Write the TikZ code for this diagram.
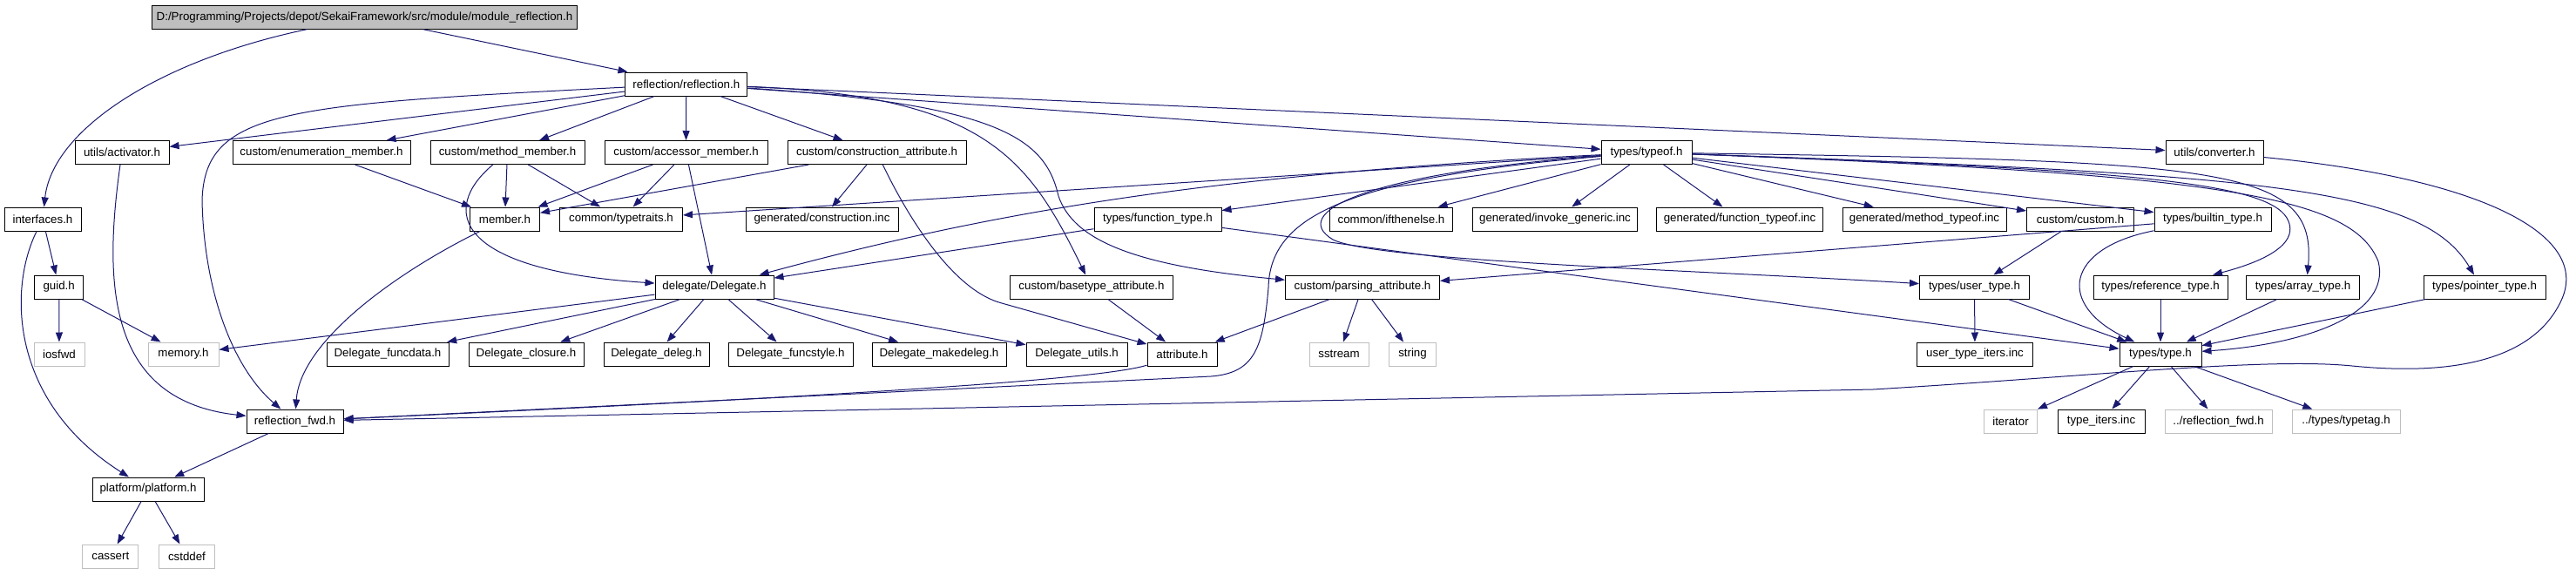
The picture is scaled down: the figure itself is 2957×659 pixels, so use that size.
\documentclass[tikz,border=0pt]{standalone}
\usepackage{fontspec}
\setmainfont{Liberation Sans}
\usepackage{xcolor}
\usepackage{tikz}
\usetikzlibrary{arrows.meta}
\definecolor{dxedge}{HTML}{191970}
\definecolor{dxgray}{HTML}{BFBFBF}

\begin{document}
\begin{tikzpicture}[x=1pt, y=-1pt,
  box/.style={draw=black, fill=white, line width=1pt, minimum height=27pt, inner sep=0pt, font=\fontsize{13.3}{16}\selectfont},
  sys/.style={box, draw=dxgray},
  main/.style={box, fill=dxgray},
  wd/.style={minimum width=#1pt},
  arr/.style={-{Triangle[length=11pt,width=8pt]}, dxedge, line width=1pt}
]
  \path[use as bounding box, fill=white] (0,0) rectangle (2957,659);

  \node[main, wd=488] (module) at (418.5,19.7) {D:/Programming/Projects/depot/SekaiFramework/src/module/module\_reflection.h};
  \node[box, wd=140] (refl) at (787.8,96.5) {reflection/reflection.h};

  \node[box, wd=108] (activator) at (140,175) {utils/activator.h};
  \node[box, wd=204] (enummember) at (369,175) {custom/enumeration\_member.h};
  \node[box, wd=177] (methodmember) at (582.5,175) {custom/method\_member.h};
  \node[box, wd=187] (accessormember) at (787.5,175) {custom/accessor\_member.h};
  \node[box, wd=205] (constrattr) at (1006.5,175) {custom/construction\_attribute.h};
  \node[box, wd=104] (typeof) at (1890,175) {types/typeof.h};
  \node[box, wd=112] (converter) at (2542,175) {utils/converter.h};

  \node[box, wd=88] (interfaces) at (49,251.5) {interfaces.h};
  \node[box, wd=80] (member) at (579.5,251.5) {member.h};
  \node[box, wd=141] (typetraits) at (713,251.5) {common/typetraits.h};
  \node[box, wd=175] (constrinc) at (943.5,251.5) {generated/construction.inc};
  \node[box, wd=146] (functype) at (1329,251.5) {types/function\_type.h};
  \node[box, wd=141] (ifthenelse) at (1597,251.5) {common/ifthenelse.h};
  \node[box, wd=189] (invokegen) at (1785,251.5) {generated/invoke\_generic.inc};
  \node[box, wd=191] (functypeof) at (1997,251.5) {generated/function\_typeof.inc};
  \node[box, wd=188] (methodtypeof) at (2209,251.5) {generated/method\_typeof.inc};
  \node[box, wd=123] (custom) at (2388,251.5) {custom/custom.h};
  \node[box, wd=134] (builtin) at (2540,251.5) {types/builtin\_type.h};

  \node[box, wd=56] (guid) at (67.7,329.5) {guid.h};
  \node[box, wd=136] (delegate) at (820,329.5) {delegate/Delegate.h};
  \node[box, wd=187] (basetype) at (1253,329.5) {custom/basetype\_attribute.h};
  \node[box, wd=177] (parsing) at (1564,329.5) {custom/parsing\_attribute.h};
  \node[box, wd=126] (usertype) at (2266.5,329.5) {types/user\_type.h};
  \node[box, wd=154] (reftype) at (2480,329.5) {types/reference\_type.h};
  \node[box, wd=130] (arraytype) at (2643.6,329.5) {types/array\_type.h};
  \node[box, wd=140] (pointertype) at (2852,329.5) {types/pointer\_type.h};

  \node[sys, wd=58] (iosfwd) at (68,406.5) {iosfwd};
  \node[sys, wd=81] (memory) at (210.5,406.5) {memory.h};
  \node[box, wd=140] (funcdata) at (445,406.5) {Delegate\_funcdata.h};
  \node[box, wd=132] (closure) at (604,406.5) {Delegate\_closure.h};
  \node[box, wd=121] (deleg) at (753.5,406.5) {Delegate\_deleg.h};
  \node[box, wd=143] (funcstyle) at (907.5,406.5) {Delegate\_funcstyle.h};
  \node[box, wd=154] (makedeleg) at (1078,406.5) {Delegate\_makedeleg.h};
  \node[box, wd=116] (dutils) at (1236,406.5) {Delegate\_utils.h};
  \node[box, wd=80] (attribute) at (1357,406.5) {attribute.h};
  \node[sys, wd=68] (sstream) at (1537,406.5) {sstream};
  \node[sys, wd=54] (string) at (1621.5,406.5) {string};
  \node[box, wd=133] (usertypeiters) at (2267,406.5) {user\_type\_iters.inc};
  \node[box, wd=94] (type) at (2480,406.5) {types/type.h};

  \node[box, wd=111] (rfwd) at (338.5,483.5) {reflection\_fwd.h};
  \node[sys, wd=61] (iterator) at (2308,483.5) {iterator};
  \node[box, wd=100] (typeiters) at (2412,483.5) {type\_iters.inc};
  \node[sys, wd=123] (rfwdrel) at (2546.5,483.5) {../reflection\_fwd.h};
  \node[sys, wd=124] (typetag) at (2693,483.5) {../types/typetag.h};

  \node[box, wd=128] (platform) at (170,561.5) {platform/platform.h};
  \node[sys, wd=64] (cassert) at (126.8,638.5) {cassert};
  \node[sys, wd=64] (cstddef) at (214.5,638.5) {cstddef};

  % module
  \draw[arr] (module) .. controls (180,70) and (60,150) .. (interfaces);
  \draw[arr] (module) -- (refl);

  % reflection.h
  \draw[arr] (refl) -- (activator);
  \draw[arr] (refl) -- (enummember);
  \draw[arr] (refl) -- (methodmember);
  \draw[arr] (refl) -- (accessormember);
  \draw[arr] (refl) -- (constrattr);
  \draw[arr] (refl) -- (typeof);
  \draw[arr] (refl) -- (converter);
  \draw[arr] (refl) .. controls (1130,110) and (1180,180) .. (basetype);
  \draw[arr] (refl) .. controls (1150,120) and (1200,160) .. (1215,225) .. controls (1232,275) and (1300,305) .. (parsing);
  \draw[arr] (refl) .. controls (330,120) and (235,125) .. (232,230) .. controls (234,330) and (265,420) .. (rfwd);

  % members
  \draw[arr] (enummember) -- (member);
  \draw[arr] (methodmember) -- (member);
  \draw[arr] (methodmember) -- (typetraits);
  \draw[arr] (methodmember) .. controls (505,240) and (520,310) .. (delegate);
  \draw[arr] (accessormember) -- (member);
  \draw[arr] (accessormember) -- (typetraits);
  \draw[arr] (accessormember) -- (delegate);
  \draw[arr] (constrattr) -- (member);
  \draw[arr] (constrattr) -- (constrinc);
  \draw[arr] (constrattr) .. controls (1050,265) and (1100,335) .. (1150,348) -- (attribute);
  \draw[arr] (activator) .. controls (118,330) and (125,460) .. (rfwd);
  \draw[arr] (member) .. controls (460,310) and (345,390) .. (rfwd);

  % typeof.h
  \draw[arr] (typeof) -- (typetraits);
  \draw[arr] (typeof) .. controls (1400,200) and (1150,240) .. (delegate);
  \draw[arr] (typeof) -- (functype);
  \draw[arr] (typeof) -- (ifthenelse);
  \draw[arr] (typeof) -- (invokegen);
  \draw[arr] (typeof) -- (functypeof);
  \draw[arr] (typeof) -- (methodtypeof);
  \draw[arr] (typeof) -- (custom);
  \draw[arr] (typeof) -- (builtin);
  \draw[arr] (typeof) .. controls (1560,200) and (1480,245) .. (1530,275) .. controls (1580,300) and (1950,310) .. (usertype);
  \draw[arr] (typeof) .. controls (1540,205) and (1458,250) .. (1456,330) .. controls (1450,400) and (1440,428) .. (1390,432) -- (rfwd);
  \draw[arr] (typeof) .. controls (2450,195) and (2600,210) .. (2625,250) .. controls (2645,285) and (2580,305) .. ([xshift=60pt]reftype.north);
  \draw[arr] (typeof) .. controls (2550,185) and (2660,190) .. ([xshift=5pt]arraytype.north);
  \draw[arr] (typeof) .. controls (2550,200) and (2700,225) .. (2730,300) .. controls (2745,360) and (2650,395) .. (type);
  \draw[arr] (typeof) .. controls (2600,200) and (2780,215) .. ([xshift=-12pt]pointertype.north);
  \draw[arr] (converter) .. controls (2850,205) and (2975,270) .. (2940,345) .. controls (2905,420) and (2800,430) .. (2700,420) .. controls (2600,410) and (2400,432) .. (2150,447) -- (rfwd);

  % types
  \draw[arr] (functype) -- (delegate);
  \draw[arr] (functype) -- (type);
  \draw[arr] (custom) -- (usertype);
  \draw[arr] (builtin) -- (parsing);
  \draw[arr] (builtin) .. controls (2370,285) and (2360,350) .. (type);
  \draw[arr] (usertype) -- (usertypeiters);
  \draw[arr] (usertype) -- (type);
  \draw[arr] (reftype) -- (type);
  \draw[arr] (arraytype) -- (type);
  \draw[arr] (pointertype) -- (type);
  \draw[arr] (type) -- (iterator);
  \draw[arr] (type) -- (typeiters);
  \draw[arr] (type) -- (rfwdrel);
  \draw[arr] (type) -- (typetag);

  % attributes
  \draw[arr] (basetype) -- (attribute);
  \draw[arr] (parsing) -- (attribute);
  \draw[arr] (parsing) -- (sstream);
  \draw[arr] (parsing) -- (string);
  \draw[arr] (attribute) .. controls (1250,440) and (800,462) .. (rfwd);

  % delegate
  \draw[arr] (delegate) -- (memory);
  \draw[arr] (delegate) -- (funcdata);
  \draw[arr] (delegate) -- (closure);
  \draw[arr] (delegate) -- (deleg);
  \draw[arr] (delegate) -- (funcstyle);
  \draw[arr] (delegate) -- (makedeleg);
  \draw[arr] (delegate) -- (dutils);

  % platform
  \draw[arr] (interfaces) -- (guid);
  \draw[arr] (interfaces) .. controls (10,330) and (10,460) .. (platform);
  \draw[arr] (guid) -- (iosfwd);
  \draw[arr] (guid) -- (memory);
  \draw[arr] (rfwd) -- (platform);
  \draw[arr] (platform) -- (cassert);
  \draw[arr] (platform) -- (cstddef);
\end{tikzpicture}
\end{document}
